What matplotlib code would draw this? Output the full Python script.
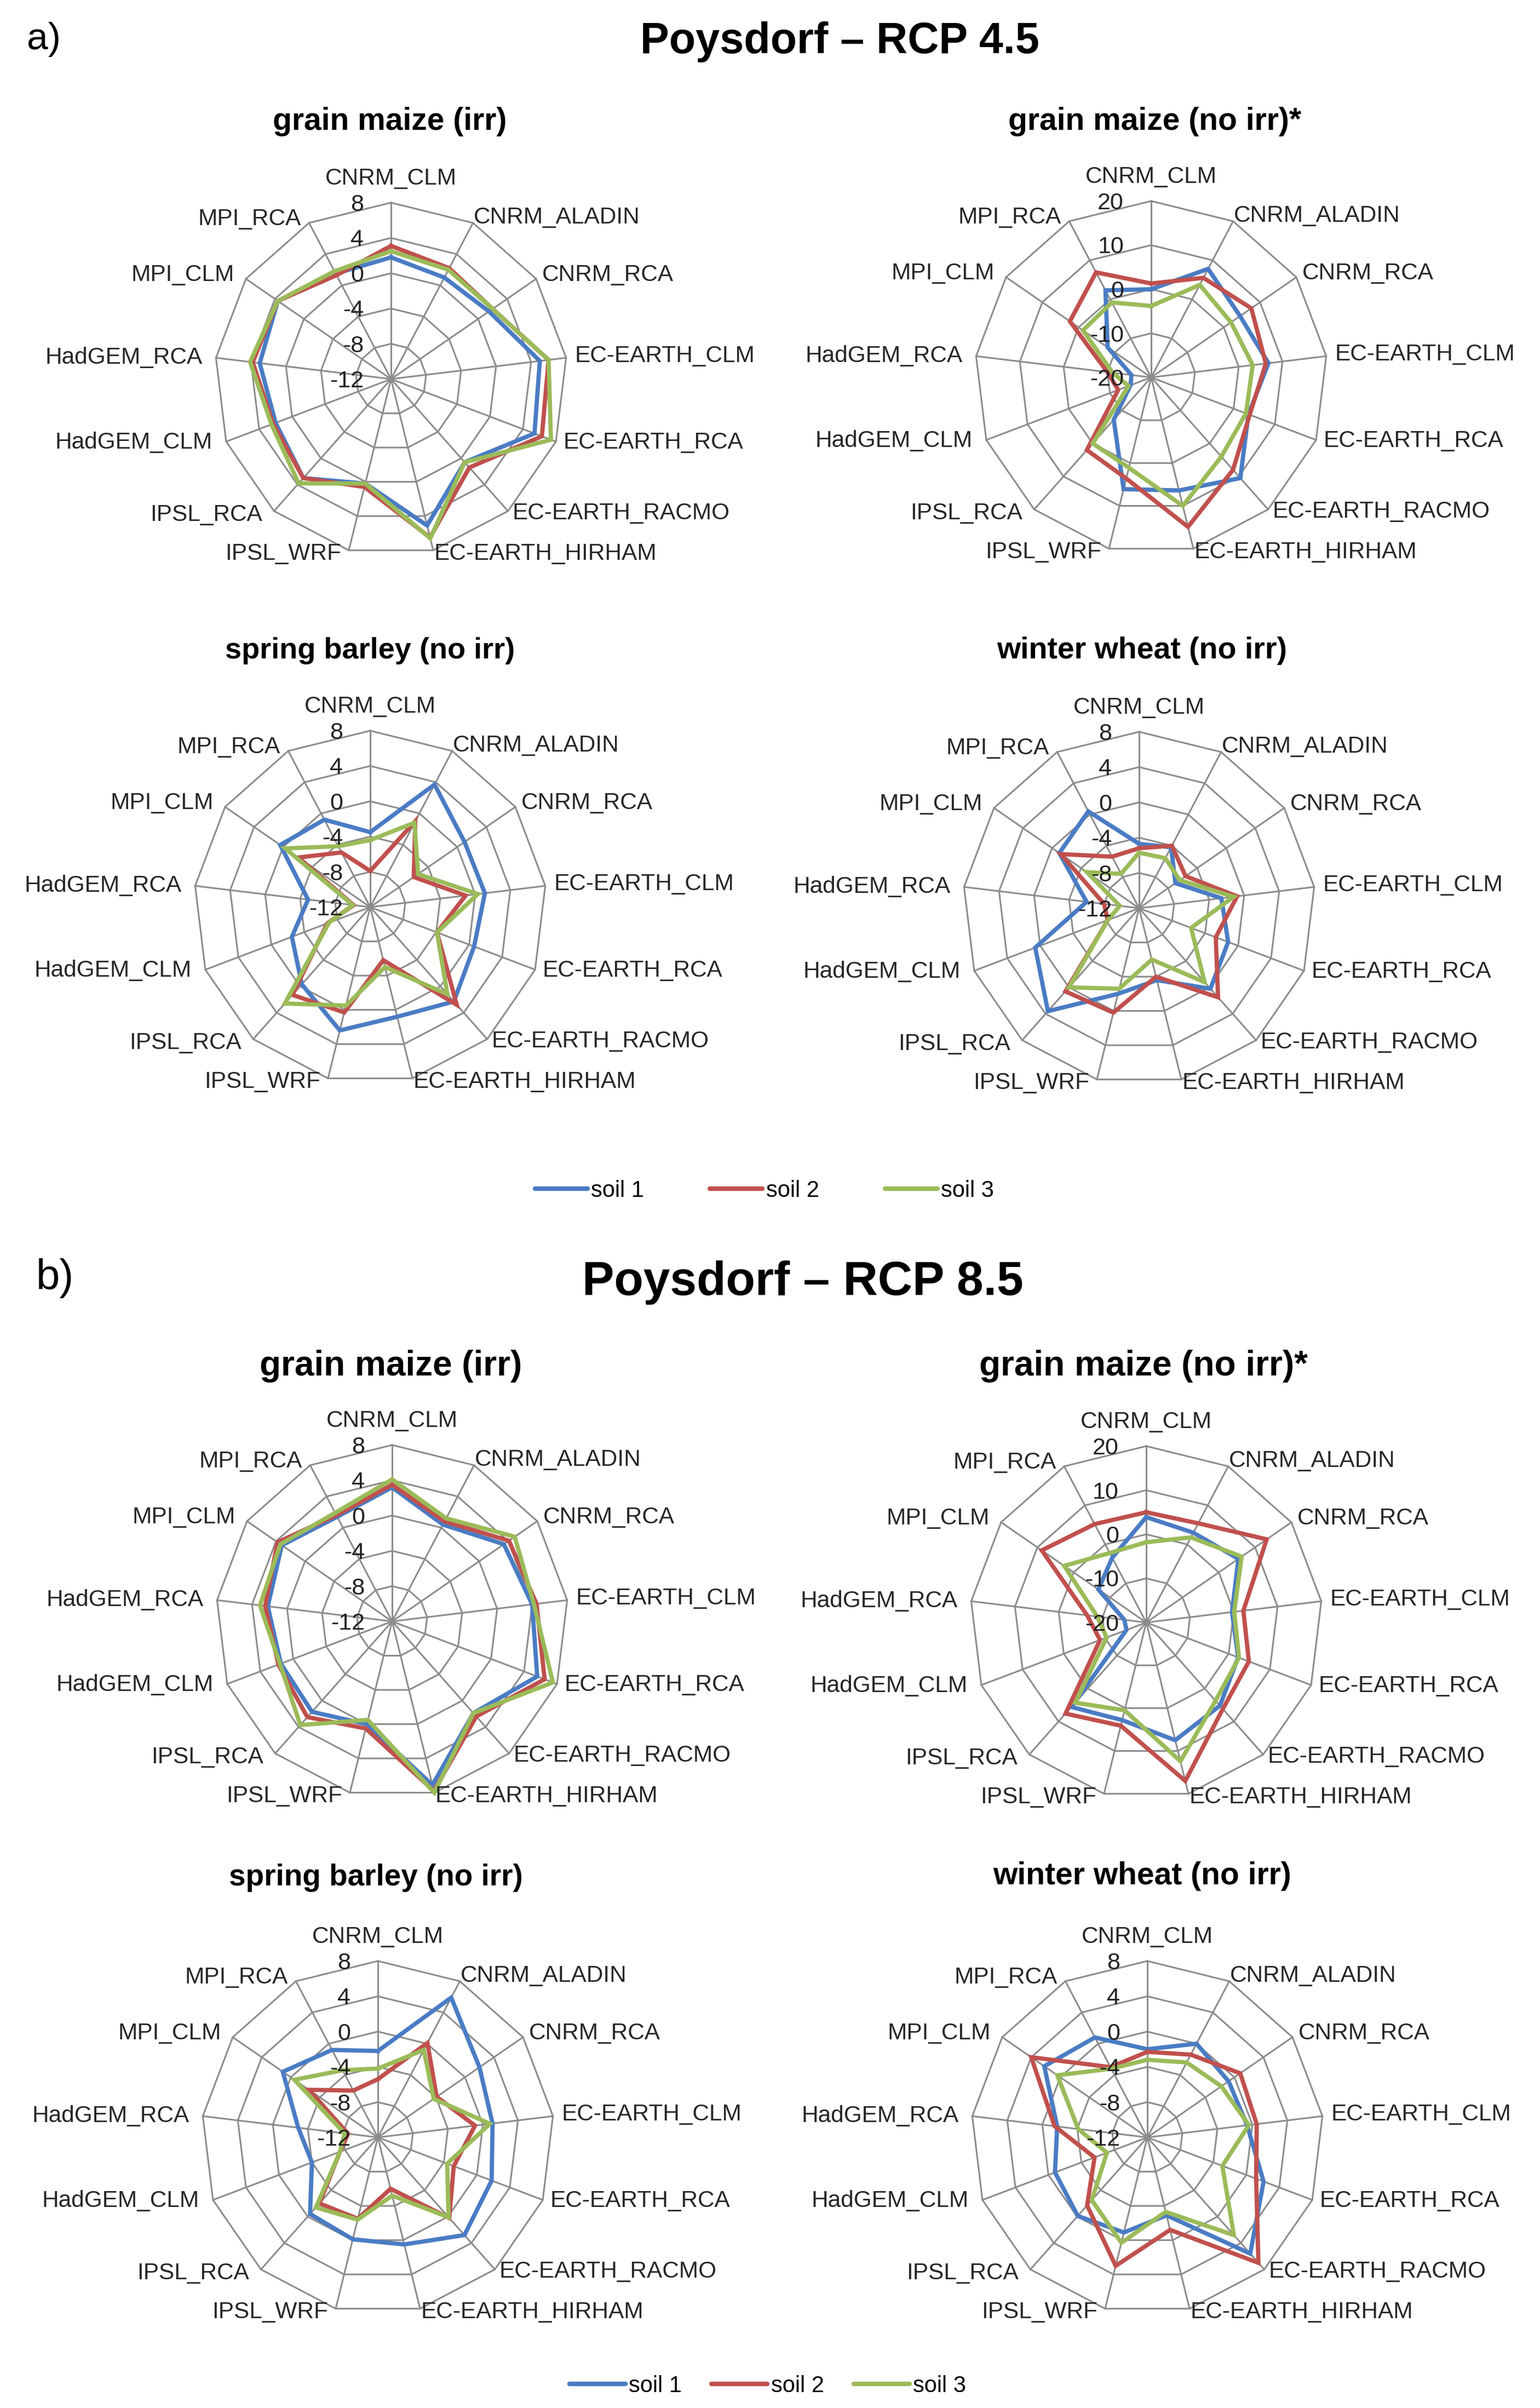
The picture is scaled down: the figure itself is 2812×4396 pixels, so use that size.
import matplotlib
matplotlib.use('Agg')
import matplotlib.pyplot as plt
import numpy as np
from matplotlib.lines import Line2D

plt.rcParams['font.family'] = ['Liberation Sans', 'DejaVu Sans']

W, H = 2812, 4396

categories = ["CNRM_CLM", "CNRM_ALADIN", "CNRM_RCA", "EC-EARTH_CLM", "EC-EARTH_RCA",
              "EC-EARTH_RACMO", "EC-EARTH_HIRHAM", "IPSL_WRF", "IPSL_RCA", "HadGEM_CLM",
              "HadGEM_RCA", "MPI_CLM", "MPI_RCA"]
soil_labels = ["soil 1", "soil 2", "soil 3"]

ticks_small = [-12, -8, -4, 0, 4, 8]
ticks_large = [-20, -10, 0, 10, 20]

# ---------------- RCP 4.5 ----------------
rcp45_maize_irr_soil1 = [1.8, 1.0, 1.5, 5.0, 5.4, 0.6, 5.1, 0.2, 3.0, 2.0, 3.0, 3.6, 1.5]
rcp45_maize_irr_soil2 = [3.1, 2.2, 2.0, 6.0, 6.3, 1.4, 6.5, 0.6, 3.0, 2.3, 3.8, 3.6, 1.3]
rcp45_maize_irr_soil3 = [2.5, 2.0, 2.0, 6.0, 7.4, 0.6, 6.6, 0.2, 3.8, 2.5, 4.1, 3.6, 1.8]

rcp45_maize_noirr_soil1 = [0.0, 7.8, 4.5, 6.8, 3.6, 10.5, 6.4, 6.1, -7.2, -15.0, -15.5, -8.0, 2.3]
rcp45_maize_noirr_soil2 = [1.3, 5.5, 7.6, 6.2, 3.9, 8.0, 14.9, 3.6, 2.0, -12.0, -10.0, 2.4, 6.9]
rcp45_maize_noirr_soil3 = [-3.8, 3.7, 2.0, 3.2, 3.0, 4.0, 10.0, 1.1, 0.0, -14.5, -11.2, -1.2, -0.8]

rcp45_barley_soil1 = [-3.5, 3.7, 1.0, 1.1, 0.6, 2.3, 0.8, 2.4, -0.3, -2.5, -4.9, 0.4, -0.8]
rcp45_barley_soil2 = [-7.9, -1.0, -6.0, -1.1, -3.9, 2.8, -5.8, 0.3, 1.3, -6.8, -10.1, -2.1, -5.0]
rcp45_barley_soil3 = [-4.4, -1.2, -5.4, 0.3, -3.9, 1.2, -5.0, -0.5, 2.6, -7.0, -10.0, -0.3, -4.2]

rcp45_wheat_soil1 = [-4.7, -4.2, -7.0, -2.6, -1.2, 0.2, -3.6, -2.0, 3.6, 0.6, -6.0, -1.0, 0.4]
rcp45_wheat_soil2 = [-5.2, -4.0, -5.6, -0.8, -2.7, 1.5, -4.0, 0.2, 0.6, -8.2, -8.0, -1.2, -5.4]
rcp45_wheat_soil3 = [-5.7, -5.6, -6.4, -1.2, -5.7, -0.8, -6.0, -2.6, 0.0, -8.2, -9.8, -4.8, -7.6]

# ---------------- RCP 8.5 ----------------
rcp85_maize_irr_soil1 = [3.2, 0.4, 3.4, 4.0, 5.6, 1.9, 7.1, 0.0, 1.7, 1.5, 2.2, 3.2, 1.4]
rcp85_maize_irr_soil2 = [3.5, 0.8, 4.1, 4.5, 6.5, 2.4, 7.8, 0.5, 2.5, 1.8, 2.5, 3.8, 1.6]
rcp85_maize_irr_soil3 = [4.1, 1.2, 4.9, 4.2, 7.5, 1.9, 8.0, -0.5, 3.7, 1.6, 3.1, 3.4, 1.9]

rcp85_maize_noirr_soil1 = [3.9, 3.0, 5.4, -0.4, 2.3, 5.2, 7.5, 2.8, 5.6, -15.2, -15.0, -6.8, -3.4]
rcp85_maize_noirr_soil2 = [5.0, 5.4, 13.2, 2.2, 4.9, 6.2, 17.0, 4.1, 7.6, -8.8, -6.5, 8.8, 5.2]
rcp85_maize_noirr_soil3 = [-1.8, 1.8, 6.3, 0.1, 2.5, 3.7, 12.4, 0.5, 4.3, -10.4, -8.8, 2.6, -2.2]

rcp85_barley_soil1 = [-2.2, 5.9, 2.0, 1.1, 1.8, 2.8, 0.5, -0.1, -0.4, -4.0, -2.9, 1.1, -0.8]
rcp85_barley_soil2 = [-5.4, 0.1, -3.9, -0.9, -2.8, 0.2, -6.0, -2.5, -2.0, -7.4, -8.6, -2.5, -6.0]
rcp85_barley_soil3 = [-4.2, -0.8, -4.3, 0.8, -3.6, 0.1, -5.2, -2.4, -1.4, -7.4, -8.2, -0.5, -3.4]

rcp85_wheat_soil1 = [-2.0, 0.0, -0.8, -0.6, 2.1, 5.6, -2.9, -0.9, -0.1, -0.8, -1.7, 2.2, 0.8]
rcp85_wheat_soil2 = [-2.3, -1.4, 0.8, 0.5, 1.2, 7.0, -1.2, 3.0, -1.7, -5.6, -1.4, 4.0, -3.0]
rcp85_wheat_soil3 = [-3.2, -2.4, -1.8, -0.4, -2.9, 2.8, -3.3, 0.3, -2.5, -7.1, -4.1, 0.4, -3.2]

COLORS = ['#4A7CC4', '#C0504D', '#9BBB59']
GRID = '#8C8C8C'
R = 322
LABEL_FS = 30.5
TICK_FS = 31

# label offsets (pixels) relative to the outer vertex of each spoke
label_offsets_px = [(0, 44), (1, 10), (11, 7), (16, 3), (13, -2), (8, -4), (1, -6),
                    (-14, -6), (-22, -7), (-25, -2), (-25, 0), (-21, 7), (-15, 7)]

fig = plt.figure(figsize=(W / 100, H / 100), dpi=100)


def px2pt(v):
    return v * 72.0 / 100.0


def radar(cx, cy, title, title_xy, title_fs, series, ticks):
    ax = fig.add_axes([(cx - R) / W, 1 - (cy + R) / H, 2 * R / W, 2 * R / H],
                      projection='polar')
    ax.set_theta_zero_location('N')
    ax.set_theta_direction(-1)
    n = len(categories)
    ang = np.linspace(0, 2 * np.pi, n, endpoint=False)
    angc = np.append(ang, ang[0])
    rmin, rmax = ticks[0], ticks[-1]
    ax.set_ylim(rmin, rmax)
    ax.grid(False)
    ax.spines['polar'].set_visible(False)
    ax.set_xticks([])
    ax.set_yticks([])
    ax.patch.set_alpha(0)
    for t in ticks[1:]:
        ax.plot(angc, [t] * (n + 1), color=GRID, lw=2.2, zorder=1, clip_on=False)
    for a in ang:
        ax.plot([a, a], [rmin, rmax], color=GRID, lw=2.2, zorder=1, clip_on=False)
    for vals, col in zip(series, COLORS):
        v = np.append(vals, vals[0])
        ax.plot(angc, v, color=col, lw=5.6, zorder=3, clip_on=False,
                solid_joinstyle='miter')
    for t in ticks:
        ax.annotate(f"{t}", xy=(0, t), xytext=(px2pt(-50), px2pt(-4)),
                    textcoords='offset points', ha='right', va='center',
                    fontsize=TICK_FS, color='#222222', zorder=5, annotation_clip=False)
    for k, (a, lab) in enumerate(zip(ang, categories)):
        dx, dy = label_offsets_px[k]
        s = np.sin(a)
        ha = 'center' if abs(s) < 0.05 else ('left' if s > 0 else 'right')
        ax.annotate(lab, xy=(a, rmax), xytext=(px2pt(dx), px2pt(dy)),
                    textcoords='offset points', ha=ha, va='center',
                    fontsize=LABEL_FS, color='#262626', annotation_clip=False)
    fig.text(title_xy[0] / W, 1 - title_xy[1] / H, title, ha='center', va='center',
             fontsize=title_fs, fontweight='bold', color='black')


# ---- panel a ----
fig.text(80 / W, 1 - 72 / H, "a)", ha='center', va='center', fontsize=50)
fig.text(1533 / W, 1 - 76 / H, "Poysdorf \u2013 RCP 4.5", ha='center', va='center',
         fontsize=57, fontweight='bold')
radar(714, 692, "grain maize (irr)", (712, 222), 41,
      [rcp45_maize_irr_soil1, rcp45_maize_irr_soil2, rcp45_maize_irr_soil3], ticks_small)
radar(2102, 689, "grain maize (no irr)*", (2109, 222), 41,
      [rcp45_maize_noirr_soil1, rcp45_maize_noirr_soil2, rcp45_maize_noirr_soil3], ticks_large)
radar(676, 1656, "spring barley (no irr)", (676, 1188), 39,
      [rcp45_barley_soil1, rcp45_barley_soil2, rcp45_barley_soil3], ticks_small)
radar(2080, 1658, "winter wheat (no irr)", (2085, 1188), 40,
      [rcp45_wheat_soil1, rcp45_wheat_soil2, rcp45_wheat_soil3], ticks_small)

# ---- panel b ----
fig.text(101 / W, 1 - 2334 / H, "b)", ha='center', va='center', fontsize=56)
fig.text(1466 / W, 1 - 2342 / H, "Poysdorf \u2013 RCP 8.5", ha='center', va='center',
         fontsize=63, fontweight='bold')
radar(716, 2960, "grain maize (irr)", (714, 2494), 46,
      [rcp85_maize_irr_soil1, rcp85_maize_irr_soil2, rcp85_maize_irr_soil3], ticks_small)
radar(2093, 2962, "grain maize (no irr)*", (2088, 2494), 46,
      [rcp85_maize_noirr_soil1, rcp85_maize_noirr_soil2, rcp85_maize_noirr_soil3], ticks_large)
radar(690, 3902, "spring barley (no irr)", (686, 3428), 39.5,
      [rcp85_barley_soil1, rcp85_barley_soil2, rcp85_barley_soil3], ticks_small)
radar(2095, 3902, "winter wheat (no irr)", (2086, 3425), 41,
      [rcp85_wheat_soil1, rcp85_wheat_soil2, rcp85_wheat_soil3], ticks_small)

# ---- legends ----
handles = [Line2D([0], [0], color=c, lw=6, solid_capstyle='round') for c in COLORS]
fig.legend(handles, soil_labels, loc='center', bbox_to_anchor=(1396 / W, 1 - 2174 / H),
           ncol=3, frameon=False, fontsize=30, handlelength=2.3, handletextpad=0.15,
           columnspacing=2.9)
fig.legend(handles, soil_labels, loc='center', bbox_to_anchor=(1402 / W, 1 - 4356 / H),
           ncol=3, frameon=False, fontsize=30, handlelength=2.45, handletextpad=0.15,
           columnspacing=1.3)

fig.savefig('out.png', dpi=100)
